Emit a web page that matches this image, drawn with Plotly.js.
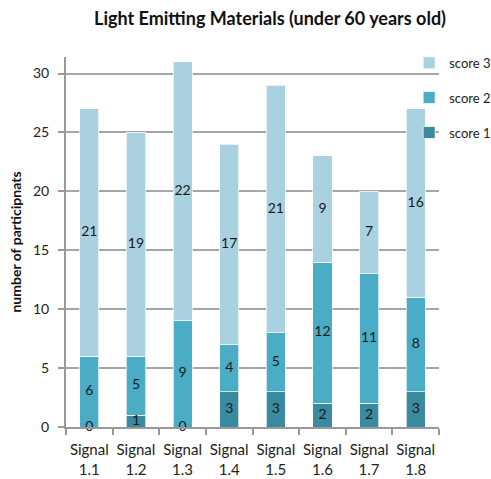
<!DOCTYPE html>
<html>
<head>
<meta charset="utf-8">
<script src="https://cdn.plot.ly/plotly-3.0.1.min.js"></script>
<style>html,body{margin:0;padding:0;background:#fff;}#chart{width:491px;height:479px;}</style>
</head>
<body>
<div id="chart"></div>
<script>
const categories = ["Signal<br>1.1","Signal<br>1.2","Signal<br>1.3","Signal<br>1.4","Signal<br>1.5","Signal<br>1.6","Signal<br>1.7","Signal<br>1.8"];
const score1 = [0, 1, 0, 3, 3, 2, 2, 3];
const score2 = [6, 5, 9, 4, 5, 12, 11, 8];
const score3 = [21, 19, 22, 17, 21, 9, 7, 16];
const seriesNames = ["score 1", "score 2", "score 3"];
const colors = ["#3a8aa0", "#4bacc6", "#a9d1df"];

const series = [score1, score2, score3];
const traces = [];
series.forEach((vals, i) => {
  traces.push({
    type: "bar", name: seriesNames[i], x: categories, y: vals,
    legendgroup: "g" + i, legendrank: 10 - i,
    marker: {color: colors[i], line: {color: "rgba(255,255,255,0.7)", width: 1}},
    hoverinfo: "skip"
  });
});
series.forEach((vals, i) => {
  const mids = vals.map((v, j) => {
    let base = 0;
    for (let k = 0; k < i; k++) base += series[k][j];
    return base + v / 2;
  });
  traces.push({
    type: "scatter", mode: "text", x: categories, y: mids,
    text: vals.map(String), textposition: "middle center",
    textfont: {family: "Lato, 'Open Sans', sans-serif", size: 14, color: "#1a1a1a"},
    showlegend: false, hoverinfo: "skip", cliponaxis: false
  });
});

const layout = {
  width: 491, height: 479,
  margin: {l: 66, r: 52, t: 57, b: 52, autoexpand: false},
  paper_bgcolor: "#fff", plot_bgcolor: "#fff",
  font: {family: "Lato, 'Open Sans', sans-serif", color: "#222"},
  title: {text: "<b>Light Emitting Materials (under 60 years old)</b>", font: {size: 18, color: "#111"}, x: 0.55, xanchor: "center", y: 0.962, yanchor: "middle"},
  barmode: "stack", bargap: 0.59,
  showlegend: true,
  legend: {traceorder: "grouped", x: 0.92, xanchor: "left", y: 1.025, yanchor: "top", font: {size: 13, color: "#222"}, itemwidth: 30, tracegroupgap: 15, bgcolor: "rgba(0,0,0,0)"},
  xaxis: {
    type: "category", showline: true, linecolor: "#999", linewidth: 2,
    ticks: "outside", tickson: "boundaries", ticklen: 6, tickcolor: "#999", tickwidth: 2,
    tickfont: {size: 15, color: "#222"}, tickangle: 0, showgrid: false, zeroline: false, ticklabelstandoff: 8, automargin: false
  },
  yaxis: {
    range: [0, 31.4], tickvals: [0, 5, 10, 15, 20, 25, 30],
    showline: true, linecolor: "#999", linewidth: 2,
    ticks: "outside", ticklen: 6, tickcolor: "#999", tickwidth: 2,
    showgrid: true, gridcolor: "#a6a6a6", gridwidth: 2, zeroline: false,
    tickfont: {size: 14, color: "#222"}, ticklabelstandoff: 6, automargin: false,
    title: {text: "<b>number of participnats</b>", font: {size: 14, color: "#111"}, standoff: 8}
  }
};
Plotly.newPlot("chart", traces, layout, {displayModeBar: false, staticPlot: true});
</script>
</body>
</html>
